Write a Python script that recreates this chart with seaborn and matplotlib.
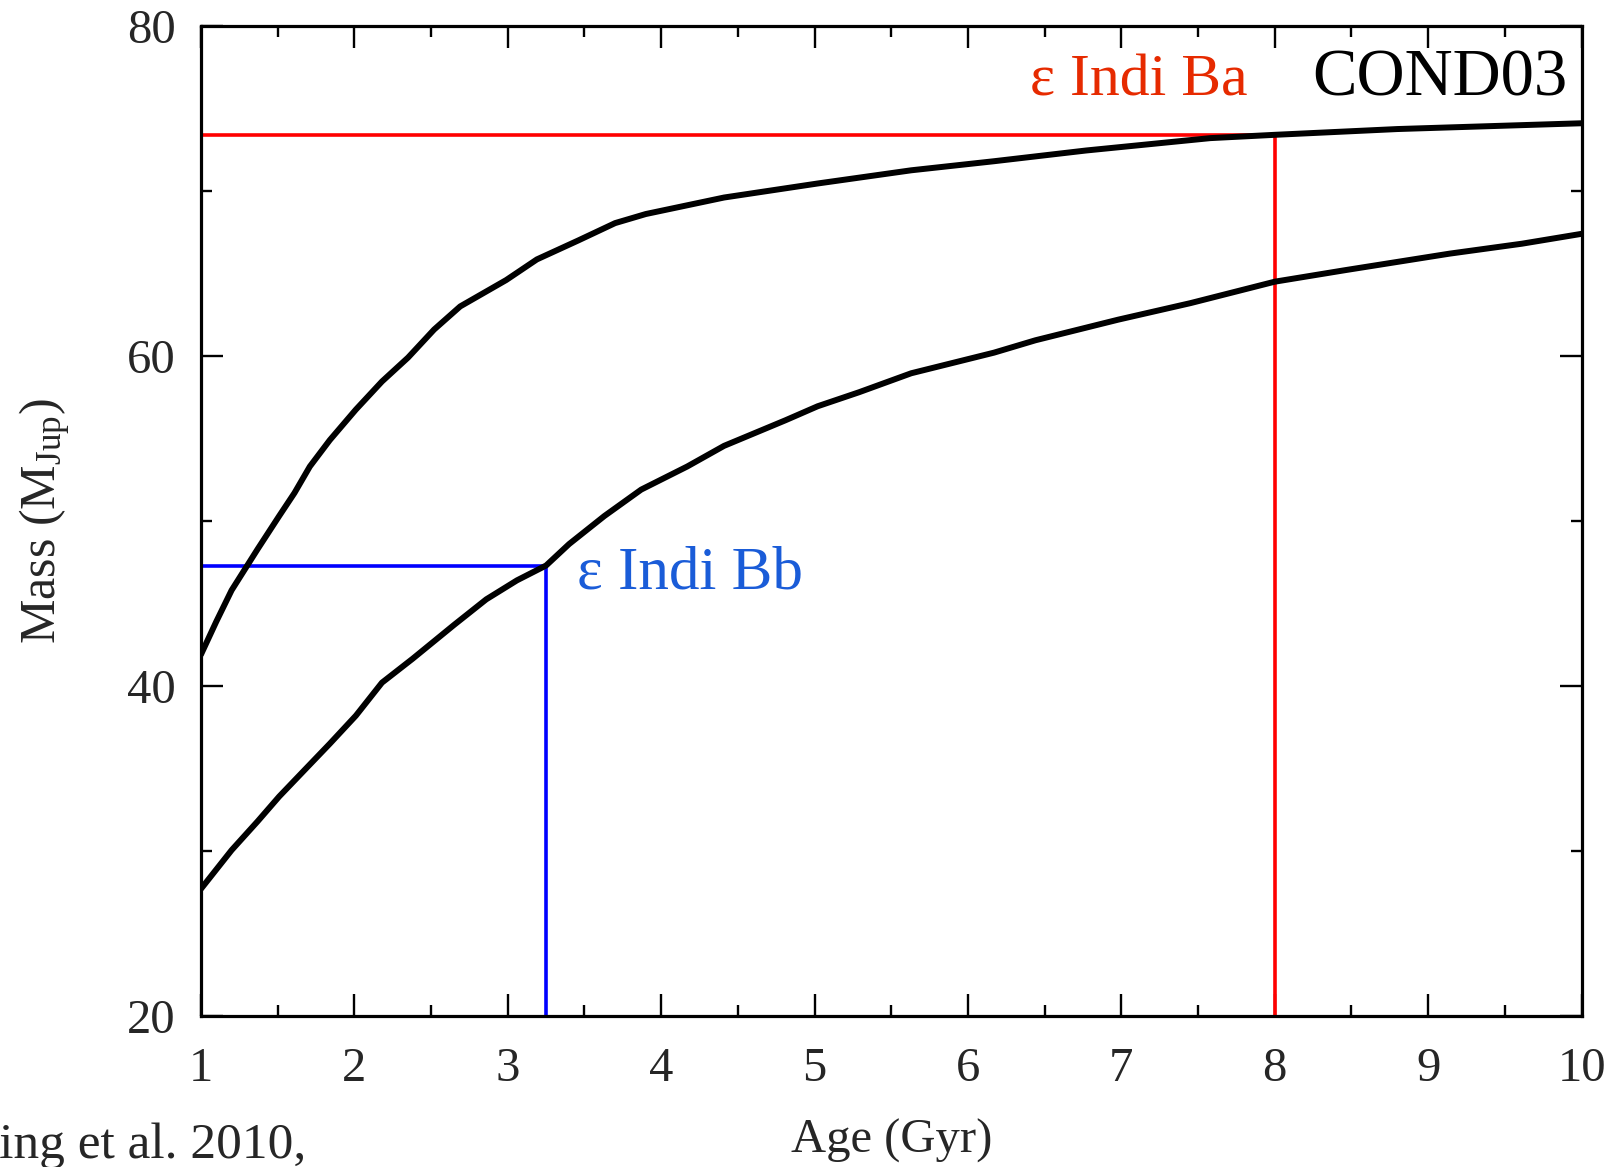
import numpy as np
import pandas as pd
import matplotlib
matplotlib.use("Agg")
import matplotlib.pyplot as plt
import seaborn as sns

# ---- data ----
upper_age = [1.0, 1.1, 1.2, 1.37, 1.51, 1.61, 1.71, 1.84, 2.01, 2.18, 2.35, 2.52, 2.69,
             2.99, 3.19, 3.46, 3.70, 3.90, 4.41, 5.02, 5.63, 6.17, 6.77, 7.58, 8.0, 8.8, 10.0]
upper_mass = [41.9, 43.9, 45.8, 48.3, 50.3, 51.7, 53.3, 54.9, 56.75, 58.45, 59.9, 61.6, 63.0,
              64.6, 65.85, 67.0, 68.05, 68.6, 69.6, 70.45, 71.25, 71.8, 72.45, 73.2, 73.4, 73.75, 74.1]
lower_age = [1.0, 1.2, 1.37, 1.51, 1.68, 1.84, 2.01, 2.18, 2.38, 2.65, 2.86, 3.06, 3.25, 3.40,
             3.63, 3.87, 4.17, 4.41, 4.81, 5.02, 5.29, 5.63, 6.17, 6.44, 6.98, 7.45, 8.0, 8.46,
             9.14, 9.61, 10.0]
lower_mass = [27.7, 30.05, 31.8, 33.3, 34.95, 36.5, 38.2, 40.2, 41.65, 43.7, 45.25, 46.4, 47.3,
              48.6, 50.3, 51.9, 53.3, 54.55, 56.1, 56.95, 57.8, 58.95, 60.2, 60.95, 62.2, 63.2,
              64.5, 65.2, 66.2, 66.8, 67.4]
ba_age, ba_mass = 8.0, 73.4
bb_age, bb_mass = 3.25, 47.3
x_ticks = [1, 2, 3, 4, 5, 6, 7, 8, 9, 10]
y_ticks = [20, 40, 60, 80]

df = pd.concat([
    pd.DataFrame({"age": upper_age, "mass": upper_mass, "track": "upper"}),
    pd.DataFrame({"age": lower_age, "mass": lower_mass, "track": "lower"}),
])

sns.set_style("ticks")
serif = ["Liberation Serif", "DejaVu Serif"]
plt.rcParams["font.family"] = serif
plt.rcParams["mathtext.fontset"] = "custom"
plt.rcParams["mathtext.rm"] = "Liberation Serif"
plt.rcParams["mathtext.it"] = "Liberation Serif:italic"

fig = plt.figure(figsize=(16.23, 11.67), dpi=100)
ax = fig.add_axes([0.1238, 0.1294, 0.9745 - 0.1238, 0.9778 - 0.1294])

sns.lineplot(data=df, x="age", y="mass", units="track", estimator=None,
             color="black", lw=4.3, ax=ax, sort=False, zorder=3)

ax.plot([1, ba_age], [ba_mass, ba_mass], color="#ff0000", lw=2.6, zorder=2)
ax.plot([ba_age, ba_age], [20, ba_mass], color="#ff0000", lw=2.6, zorder=2)
ax.plot([1, bb_age], [bb_mass, bb_mass], color="#0000ff", lw=2.6, zorder=2)
ax.plot([bb_age, bb_age], [20, bb_mass], color="#0000ff", lw=2.6, zorder=2)

ax.set_xlim(1, 10)
ax.set_ylim(20, 80)
ax.set_xticks(x_ticks)
ax.set_xticks(np.arange(1.5, 10, 1), minor=True)
ax.set_yticks(y_ticks)
ax.set_yticks([30, 50, 70], minor=True)
ax.tick_params(which="both", direction="in", top=True, right=True, width=1.7,
               color="black", labelsize=35)
ax.tick_params(which="major", length=16)
ax.tick_params(axis="x", which="major", pad=22)
ax.tick_params(axis="y", which="major", pad=18)
ax.tick_params(which="minor", length=8)
for s in ax.spines.values():
    s.set_linewidth(2.3)
    s.set_color("black")

ax.set_xlabel("Age (Gyr)", fontsize=35, labelpad=20)
ax.set_ylabel(r"Mass (M$_{\rm Jup}$)", fontsize=36)
ax.yaxis.set_label_coords(-0.093, 0.5)

ax.text(7.82, 75.8, "ε Indi Ba", color="#e62a00", fontsize=43, ha="right", va="baseline")
ax.text(9.91, 75.8, "COND03", color="black", fontsize=48, ha="right", va="baseline")
ax.text(3.45, 45.9, "ε Indi Bb", color="#1a5cd8", fontsize=44, ha="left", va="baseline")

fig.text(306 / 1623, 1 - 1158 / 1167, "King et al. 2010,", fontsize=37,
         ha="right", va="baseline")

fig.savefig("out.png", dpi=100, facecolor="white")
